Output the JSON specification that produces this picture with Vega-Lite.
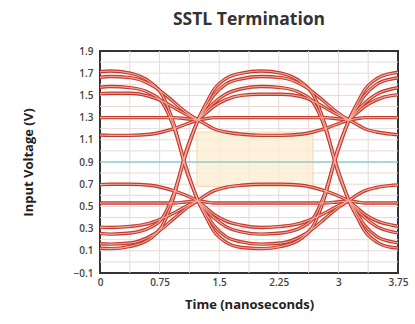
{
"$schema": "https://vega.github.io/schema/vega-lite/v6.json",
"width": 298, "height": 222,
"autosize": {"type": "none"},
"padding": {"left": 100, "top": 51, "right": 17, "bottom": 51},
"background": "white",
"title": {"text": "SSTL Termination", "fontSize": 17.5, "font": "Open Sans", "fontWeight": "bold", "color": "#333333", "offset": 18, "anchor": "middle"},
"config": {"view": {"stroke": "#333333", "strokeWidth": 2}, "font": "Open Sans",
 "axis": {"labelOverlap": false, "labelBound": false, "grid": false, "domain": false, "ticks": false, "labelFlush": false,
  "labelFontSize": 10, "labelColor": "#444444", "labelFontWeight": 600, "titleFontSize": 13, "titleFontWeight": "bold", "titleColor": "#222222"},
 "axisY": {"labelPadding": 7, "titlePadding": 38, "labelOverlap": false},
 "axisX": {"labelPadding": 4, "titlePadding": 11, "labelDx": 3, "labelOverlap": false}},
"encoding": {
 "y": {"type": "quantitative", "scale": {"domain": [-0.1, 1.9], "nice": false, "zero": false},
  "axis": {"title": "Input Voltage (V)", "values": [-0.1, 0.1, 0.3, 0.5, 0.7, 0.9, 1.1, 1.3, 1.5, 1.7, 1.9], "format": ".1f", "labelOverlap": false}},
 "x": {"type": "quantitative", "scale": {"domain": [0, 3.75], "nice": false, "zero": false},
  "axis": {"title": "Time (nanoseconds)", "values": [0, 0.75, 1.5, 2.25, 3, 3.75], "labelExpr": "'' + datum.value", "labelOverlap": false}}
},
"layer": [
{"data": {"values": [{"g": 0}, {"g": 0.1}, {"g": 0.2}, {"g": 0.3}, {"g": 0.4}, {"g": 0.5}, {"g": 0.6}, {"g": 0.7}, {"g": 0.8}, {"g": 1.0}, {"g": 1.1}, {"g": 1.2}, {"g": 1.3}, {"g": 1.4}, {"g": 1.5}, {"g": 1.6}, {"g": 1.7}, {"g": 1.8}]},
 "mark": {"type": "rule", "color": "#e8d8d8", "strokeWidth": 1},
 "encoding": {"y": {"field": "g"}}},
{"data": {"values": [{"g": 0.375}, {"g": 0.75}, {"g": 1.125}, {"g": 1.5}, {"g": 1.875}, {"g": 2.25}, {"g": 2.625}, {"g": 3}, {"g": 3.375}]},
 "mark": {"type": "rule", "color": "#e8d8d8", "strokeWidth": 1},
 "encoding": {"x": {"field": "g"}}},
{"data": {"values": [{"t0": 1.22, "t1": 2.68, "v0": 0.68, "v1": 1.17}]},
 "mark": {"type": "rect", "fill": "#fdefd6", "stroke": "#f3d2a2", "strokeWidth": 1, "opacity": 0.85},
 "encoding": {"x": {"field": "t0"}, "x2": {"field": "t1"}, "y": {"field": "v0"}, "y2": {"field": "v1"}}},
{"data": {"values": [{"v": 0.9}]},
 "mark": {"type": "rule", "color": "#8ccbcd", "strokeWidth": 1.6},
 "encoding": {"y": {"field": "v"}}},
{"data": {"values": [
{"k":"a1A","t":-0.12,"v":1.70},{"k":"a1A","t":0.13,"v":1.72},{"k":"a1A","t":0.38,"v":1.70},{"k":"a1A","t":0.63,"v":1.62},{"k":"a1A","t":0.78,"v":1.51},{"k":"a1A","t":0.93,"v":1.24},{"k":"a1A","t":1.08,"v":0.84},{"k":"a1A","t":1.23,"v":0.56},
{"k":"a1B","t":1.23,"v":1.28},{"k":"a1B","t":1.33,"v":1.42},{"k":"a1B","t":1.43,"v":1.55},{"k":"a1B","t":1.58,"v":1.65},{"k":"a1B","t":1.78,"v":1.70},{"k":"a1B","t":2.03,"v":1.72},{"k":"a1B","t":2.28,"v":1.70},{"k":"a1B","t":2.53,"v":1.62},{"k":"a1B","t":2.68,"v":1.51},{"k":"a1B","t":2.83,"v":1.24},{"k":"a1B","t":2.98,"v":0.84},{"k":"a1B","t":3.13,"v":0.56},
{"k":"a1C","t":3.13,"v":1.28},{"k":"a1C","t":3.23,"v":1.42},{"k":"a1C","t":3.33,"v":1.55},{"k":"a1C","t":3.48,"v":1.65},{"k":"a1C","t":3.68,"v":1.70},{"k":"a1C","t":3.93,"v":1.72},
{"k":"a1bA","t":-0.12,"v":1.65},{"k":"a1bA","t":0.13,"v":1.67},{"k":"a1bA","t":0.38,"v":1.66},{"k":"a1bA","t":0.63,"v":1.60},{"k":"a1bA","t":0.78,"v":1.53},{"k":"a1bA","t":0.93,"v":1.44},{"k":"a1bA","t":1.08,"v":1.35},{"k":"a1bA","t":1.23,"v":1.28},
{"k":"a1bB","t":1.23,"v":1.28},{"k":"a1bB","t":1.33,"v":1.39},{"k":"a1bB","t":1.43,"v":1.50},{"k":"a1bB","t":1.58,"v":1.60},{"k":"a1bB","t":1.78,"v":1.65},{"k":"a1bB","t":2.03,"v":1.67},{"k":"a1bB","t":2.28,"v":1.66},{"k":"a1bB","t":2.53,"v":1.60},{"k":"a1bB","t":2.68,"v":1.53},{"k":"a1bB","t":2.83,"v":1.44},{"k":"a1bB","t":2.98,"v":1.35},{"k":"a1bB","t":3.13,"v":1.28},
{"k":"a1bC","t":3.13,"v":1.28},{"k":"a1bC","t":3.23,"v":1.39},{"k":"a1bC","t":3.33,"v":1.50},{"k":"a1bC","t":3.48,"v":1.60},{"k":"a1bC","t":3.68,"v":1.65},{"k":"a1bC","t":3.93,"v":1.67},
{"k":"a2A","t":-0.12,"v":1.56},{"k":"a2A","t":0.13,"v":1.58},{"k":"a2A","t":0.38,"v":1.57},{"k":"a2A","t":0.63,"v":1.52},{"k":"a2A","t":0.78,"v":1.44},{"k":"a2A","t":0.93,"v":1.21},{"k":"a2A","t":1.08,"v":0.86},{"k":"a2A","t":1.23,"v":0.55},
{"k":"a2B","t":1.23,"v":1.28},{"k":"a2B","t":1.33,"v":1.36},{"k":"a2B","t":1.43,"v":1.43},{"k":"a2B","t":1.58,"v":1.51},{"k":"a2B","t":1.78,"v":1.56},{"k":"a2B","t":2.03,"v":1.58},{"k":"a2B","t":2.28,"v":1.57},{"k":"a2B","t":2.53,"v":1.52},{"k":"a2B","t":2.68,"v":1.44},{"k":"a2B","t":2.83,"v":1.21},{"k":"a2B","t":2.98,"v":0.86},{"k":"a2B","t":3.13,"v":0.55},
{"k":"a2C","t":3.13,"v":1.28},{"k":"a2C","t":3.23,"v":1.36},{"k":"a2C","t":3.33,"v":1.43},{"k":"a2C","t":3.48,"v":1.51},{"k":"a2C","t":3.68,"v":1.56},{"k":"a2C","t":3.93,"v":1.58},
{"k":"a3A","t":-0.12,"v":1.51},{"k":"a3A","t":0.13,"v":1.52},{"k":"a3A","t":0.38,"v":1.52},{"k":"a3A","t":0.63,"v":1.49},{"k":"a3A","t":0.78,"v":1.45},{"k":"a3A","t":0.93,"v":1.39},{"k":"a3A","t":1.08,"v":1.33},{"k":"a3A","t":1.23,"v":1.28},
{"k":"a3B","t":1.23,"v":1.28},{"k":"a3B","t":1.33,"v":1.34},{"k":"a3B","t":1.43,"v":1.40},{"k":"a3B","t":1.58,"v":1.46},{"k":"a3B","t":1.78,"v":1.50},{"k":"a3B","t":2.03,"v":1.51},{"k":"a3B","t":2.28,"v":1.51},{"k":"a3B","t":2.53,"v":1.49},{"k":"a3B","t":2.68,"v":1.45},{"k":"a3B","t":2.83,"v":1.39},{"k":"a3B","t":2.98,"v":1.33},{"k":"a3B","t":3.13,"v":1.28},
{"k":"a3C","t":3.13,"v":1.28},{"k":"a3C","t":3.23,"v":1.34},{"k":"a3C","t":3.33,"v":1.40},{"k":"a3C","t":3.48,"v":1.46},{"k":"a3C","t":3.68,"v":1.50},{"k":"a3C","t":3.93,"v":1.51},
{"k":"f1A","t":-0.12,"v":1.30},{"k":"f1A","t":0.13,"v":1.30},{"k":"f1A","t":0.38,"v":1.30},{"k":"f1A","t":0.63,"v":1.30},{"k":"f1A","t":0.78,"v":1.30},{"k":"f1A","t":0.93,"v":1.30},{"k":"f1A","t":1.08,"v":1.29},{"k":"f1A","t":1.23,"v":1.28},
{"k":"f1B","t":1.23,"v":1.28},{"k":"f1B","t":1.33,"v":1.29},{"k":"f1B","t":1.43,"v":1.30},{"k":"f1B","t":1.58,"v":1.30},{"k":"f1B","t":1.78,"v":1.30},{"k":"f1B","t":2.03,"v":1.30},{"k":"f1B","t":2.28,"v":1.30},{"k":"f1B","t":2.53,"v":1.30},{"k":"f1B","t":2.68,"v":1.30},{"k":"f1B","t":2.83,"v":1.30},{"k":"f1B","t":2.98,"v":1.29},{"k":"f1B","t":3.13,"v":1.28},
{"k":"f1C","t":3.13,"v":1.28},{"k":"f1C","t":3.23,"v":1.29},{"k":"f1C","t":3.33,"v":1.30},{"k":"f1C","t":3.48,"v":1.30},{"k":"f1C","t":3.68,"v":1.30},{"k":"f1C","t":3.93,"v":1.30},
{"k":"s1A","t":-0.12,"v":1.15},{"k":"s1A","t":0.13,"v":1.14},{"k":"s1A","t":0.38,"v":1.14},{"k":"s1A","t":0.63,"v":1.15},{"k":"s1A","t":0.78,"v":1.17},{"k":"s1A","t":0.93,"v":1.20},{"k":"s1A","t":1.08,"v":1.24},{"k":"s1A","t":1.23,"v":1.28},
{"k":"s1B","t":1.23,"v":1.28},{"k":"s1B","t":1.33,"v":1.24},{"k":"s1B","t":1.43,"v":1.20},{"k":"s1B","t":1.58,"v":1.17},{"k":"s1B","t":1.78,"v":1.15},{"k":"s1B","t":2.03,"v":1.14},{"k":"s1B","t":2.28,"v":1.14},{"k":"s1B","t":2.53,"v":1.15},{"k":"s1B","t":2.68,"v":1.17},{"k":"s1B","t":2.83,"v":1.20},{"k":"s1B","t":2.98,"v":1.24},{"k":"s1B","t":3.13,"v":1.28},
{"k":"s1C","t":3.13,"v":1.28},{"k":"s1C","t":3.23,"v":1.24},{"k":"s1C","t":3.33,"v":1.20},{"k":"s1C","t":3.48,"v":1.17},{"k":"s1C","t":3.68,"v":1.15},{"k":"s1C","t":3.93,"v":1.14},
{"k":"b1A","t":-0.12,"v":0.13},{"k":"b1A","t":0.13,"v":0.12},{"k":"b1A","t":0.38,"v":0.14},{"k":"b1A","t":0.63,"v":0.21},{"k":"b1A","t":0.78,"v":0.32},{"k":"b1A","t":0.93,"v":0.59},{"k":"b1A","t":1.08,"v":0.99},{"k":"b1A","t":1.23,"v":1.27},
{"k":"b1B","t":1.23,"v":0.55},{"k":"b1B","t":1.33,"v":0.41},{"k":"b1B","t":1.43,"v":0.28},{"k":"b1B","t":1.58,"v":0.18},{"k":"b1B","t":1.78,"v":0.13},{"k":"b1B","t":2.03,"v":0.12},{"k":"b1B","t":2.28,"v":0.14},{"k":"b1B","t":2.53,"v":0.21},{"k":"b1B","t":2.68,"v":0.32},{"k":"b1B","t":2.83,"v":0.59},{"k":"b1B","t":2.98,"v":0.99},{"k":"b1B","t":3.13,"v":1.27},
{"k":"b1C","t":3.13,"v":0.55},{"k":"b1C","t":3.23,"v":0.41},{"k":"b1C","t":3.33,"v":0.28},{"k":"b1C","t":3.48,"v":0.18},{"k":"b1C","t":3.68,"v":0.13},{"k":"b1C","t":3.93,"v":0.12},
{"k":"b1bA","t":-0.12,"v":0.17},{"k":"b1bA","t":0.13,"v":0.16},{"k":"b1bA","t":0.38,"v":0.17},{"k":"b1bA","t":0.63,"v":0.23},{"k":"b1bA","t":0.78,"v":0.30},{"k":"b1bA","t":0.93,"v":0.39},{"k":"b1bA","t":1.08,"v":0.48},{"k":"b1bA","t":1.23,"v":0.55},
{"k":"b1bB","t":1.23,"v":0.55},{"k":"b1bB","t":1.33,"v":0.44},{"k":"b1bB","t":1.43,"v":0.33},{"k":"b1bB","t":1.58,"v":0.23},{"k":"b1bB","t":1.78,"v":0.18},{"k":"b1bB","t":2.03,"v":0.16},{"k":"b1bB","t":2.28,"v":0.17},{"k":"b1bB","t":2.53,"v":0.23},{"k":"b1bB","t":2.68,"v":0.30},{"k":"b1bB","t":2.83,"v":0.39},{"k":"b1bB","t":2.98,"v":0.48},{"k":"b1bB","t":3.13,"v":0.55},
{"k":"b1bC","t":3.13,"v":0.55},{"k":"b1bC","t":3.23,"v":0.44},{"k":"b1bC","t":3.33,"v":0.33},{"k":"b1bC","t":3.48,"v":0.23},{"k":"b1bC","t":3.68,"v":0.18},{"k":"b1bC","t":3.93,"v":0.16},
{"k":"b2A","t":-0.12,"v":0.27},{"k":"b2A","t":0.13,"v":0.25},{"k":"b2A","t":0.38,"v":0.26},{"k":"b2A","t":0.63,"v":0.31},{"k":"b2A","t":0.78,"v":0.39},{"k":"b2A","t":0.93,"v":0.62},{"k":"b2A","t":1.08,"v":0.97},{"k":"b2A","t":1.23,"v":1.28},
{"k":"b2B","t":1.23,"v":0.55},{"k":"b2B","t":1.33,"v":0.47},{"k":"b2B","t":1.43,"v":0.40},{"k":"b2B","t":1.58,"v":0.32},{"k":"b2B","t":1.78,"v":0.27},{"k":"b2B","t":2.03,"v":0.25},{"k":"b2B","t":2.28,"v":0.26},{"k":"b2B","t":2.53,"v":0.31},{"k":"b2B","t":2.68,"v":0.39},{"k":"b2B","t":2.83,"v":0.62},{"k":"b2B","t":2.98,"v":0.97},{"k":"b2B","t":3.13,"v":1.28},
{"k":"b2C","t":3.13,"v":0.55},{"k":"b2C","t":3.23,"v":0.47},{"k":"b2C","t":3.33,"v":0.40},{"k":"b2C","t":3.48,"v":0.32},{"k":"b2C","t":3.68,"v":0.27},{"k":"b2C","t":3.93,"v":0.25},
{"k":"b3A","t":-0.12,"v":0.32},{"k":"b3A","t":0.13,"v":0.31},{"k":"b3A","t":0.38,"v":0.32},{"k":"b3A","t":0.63,"v":0.35},{"k":"b3A","t":0.78,"v":0.39},{"k":"b3A","t":0.93,"v":0.44},{"k":"b3A","t":1.08,"v":0.50},{"k":"b3A","t":1.23,"v":0.55},
{"k":"b3B","t":1.23,"v":0.55},{"k":"b3B","t":1.33,"v":0.49},{"k":"b3B","t":1.43,"v":0.43},{"k":"b3B","t":1.58,"v":0.37},{"k":"b3B","t":1.78,"v":0.33},{"k":"b3B","t":2.03,"v":0.31},{"k":"b3B","t":2.28,"v":0.32},{"k":"b3B","t":2.53,"v":0.35},{"k":"b3B","t":2.68,"v":0.39},{"k":"b3B","t":2.83,"v":0.44},{"k":"b3B","t":2.98,"v":0.50},{"k":"b3B","t":3.13,"v":0.55},
{"k":"b3C","t":3.13,"v":0.55},{"k":"b3C","t":3.23,"v":0.49},{"k":"b3C","t":3.33,"v":0.43},{"k":"b3C","t":3.48,"v":0.37},{"k":"b3C","t":3.68,"v":0.33},{"k":"b3C","t":3.93,"v":0.31},
{"k":"g1A","t":-0.12,"v":0.53},{"k":"g1A","t":0.13,"v":0.53},{"k":"g1A","t":0.38,"v":0.53},{"k":"g1A","t":0.63,"v":0.53},{"k":"g1A","t":0.78,"v":0.53},{"k":"g1A","t":0.93,"v":0.53},{"k":"g1A","t":1.08,"v":0.54},{"k":"g1A","t":1.23,"v":0.55},
{"k":"g1B","t":1.23,"v":0.55},{"k":"g1B","t":1.33,"v":0.54},{"k":"g1B","t":1.43,"v":0.53},{"k":"g1B","t":1.58,"v":0.53},{"k":"g1B","t":1.78,"v":0.53},{"k":"g1B","t":2.03,"v":0.53},{"k":"g1B","t":2.28,"v":0.53},{"k":"g1B","t":2.53,"v":0.53},{"k":"g1B","t":2.68,"v":0.53},{"k":"g1B","t":2.83,"v":0.53},{"k":"g1B","t":2.98,"v":0.54},{"k":"g1B","t":3.13,"v":0.55},
{"k":"g1C","t":3.13,"v":0.55},{"k":"g1C","t":3.23,"v":0.54},{"k":"g1C","t":3.33,"v":0.53},{"k":"g1C","t":3.48,"v":0.53},{"k":"g1C","t":3.68,"v":0.53},{"k":"g1C","t":3.93,"v":0.53},
{"k":"h1A","t":-0.12,"v":0.69},{"k":"h1A","t":0.13,"v":0.70},{"k":"h1A","t":0.38,"v":0.70},{"k":"h1A","t":0.63,"v":0.69},{"k":"h1A","t":0.78,"v":0.67},{"k":"h1A","t":0.93,"v":0.64},{"k":"h1A","t":1.08,"v":0.60},{"k":"h1A","t":1.23,"v":0.55},
{"k":"h1B","t":1.23,"v":0.55},{"k":"h1B","t":1.33,"v":0.60},{"k":"h1B","t":1.43,"v":0.64},{"k":"h1B","t":1.58,"v":0.67},{"k":"h1B","t":1.78,"v":0.69},{"k":"h1B","t":2.03,"v":0.70},{"k":"h1B","t":2.28,"v":0.70},{"k":"h1B","t":2.53,"v":0.69},{"k":"h1B","t":2.68,"v":0.67},{"k":"h1B","t":2.83,"v":0.64},{"k":"h1B","t":2.98,"v":0.60},{"k":"h1B","t":3.13,"v":0.55},
{"k":"h1C","t":3.13,"v":0.55},{"k":"h1C","t":3.23,"v":0.60},{"k":"h1C","t":3.33,"v":0.64},{"k":"h1C","t":3.48,"v":0.67},{"k":"h1C","t":3.68,"v":0.69},{"k":"h1C","t":3.93,"v":0.70}
]},
 "layer": [
  {"mark": {"type": "line", "clip": true, "interpolate": "monotone", "color": "#c33a2e", "strokeWidth": 3.4},
   "encoding": {"x": {"field": "t"}, "y": {"field": "v"}, "detail": {"field": "k"}}},
  {"mark": {"type": "line", "clip": true, "interpolate": "monotone", "color": "#f2ab9c", "strokeWidth": 1.1},
   "encoding": {"x": {"field": "t"}, "y": {"field": "v"}, "detail": {"field": "k"}}}
 ]}
]
}
